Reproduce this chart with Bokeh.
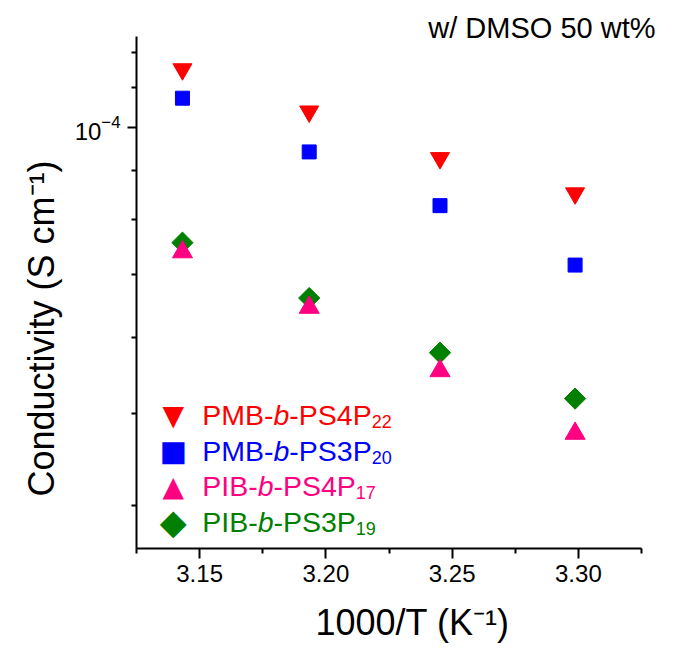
import numpy as np
from bokeh.plotting import figure
from bokeh.models import Range1d, FixedTicker, Label, Title
from bokeh.embed import file_html
from bokeh.resources import INLINE

# ---------------- data ----------------
inv_T = [3.1432, 3.1934, 3.2452, 3.2987]          # 1000/T (K^-1)
pmb_ps4p22 = [1.151e-4, 1.039e-4, 9.28e-5, 8.52e-5]
pmb_ps3p20 = [1.073e-4, 9.42e-5, 8.27e-5, 7.16e-5]
pib_ps4p17 = [7.39e-5, 6.46e-5, 5.54e-5, 4.76e-5]
pib_ps3p19 = [7.56e-5, 6.61e-5, 5.79e-5, 5.18e-5]

x_ticks = [3.15, 3.20, 3.25, 3.30]
x_tick_labels = ["3.15", "3.20", "3.25", "3.30"]
x_minor_ticks = [3.125, 3.175, 3.225, 3.275, 3.325]
y_ticks = [1e-4]
y_minor_ticks = [1.2e-4, 1.1e-4, 9e-5, 8e-5, 7e-5, 6e-5, 5e-5, 4e-5]

legend_head = ["PMB-", "PMB-", "PIB-", "PIB-"]
legend_block = ["b", "b", "b", "b"]
legend_tail = ["-PS4P", "-PS3P", "-PS4P", "-PS3P"]
legend_sub = ["22", "20", "17", "19"]
legend_symbols = ["\u25BC", "\u25A0", "\u25B2", "\u25C6"]
legend_symbol_sizes = [28, 29, 28, 35]
colors = ["#FF0000", "#0000FF", "#FF0080", "#008000"]

title_text = "w/ DMSO 50 wt%"
x_label = "1000/T (K\u207B\u00B9)"
y_label = "Conductivity (S cm\u207B\u00B9)"

FONT = "Liberation Sans"

p = figure(width=683, height=657, y_axis_type="log",
           x_range=Range1d(3.125, 3.325), y_range=Range1d(3.602e-5, 1.2461e-4),
           output_backend="svg", toolbar_location=None,
           min_border_left=136, min_border_right=42,
           min_border_top=36, min_border_bottom=108)
p.outline_line_color = None
p.xgrid.visible = False
p.ygrid.visible = False
p.background_fill_color = "white"
p.border_fill_color = "white"

# top-right caption as the plot title
p.title.text = title_text
p.title.align = "right"
p.title.offset = -14
p.title.standoff = -14
p.title.text_font = FONT
p.title.text_font_size = "29px"
p.title.text_font_style = "normal"
p.title.text_color = "black"

for ax in (p.xaxis[0], p.yaxis[0]):
    ax.axis_line_width = 2
    ax.axis_line_color = "black"
    ax.major_tick_line_width = 2
    ax.minor_tick_line_width = 2
    ax.major_tick_in = 0
    ax.minor_tick_in = 0
    ax.minor_tick_out = 5
    ax.major_label_text_font = FONT
    ax.major_label_text_font_size = "24px"
    ax.major_label_text_color = "black"

xa = p.xaxis[0]
xa.ticker = FixedTicker(ticks=x_ticks, minor_ticks=x_minor_ticks)
xa.major_label_overrides = dict(zip(x_ticks, x_tick_labels))
xa.major_tick_out = 10
xa.major_label_standoff = 6

ya = p.yaxis[0]
ya.ticker = FixedTicker(ticks=y_ticks, minor_ticks=y_minor_ticks)
ya.major_tick_out = 9
ya.major_label_standoff = 7

# axis titles (side panels, anchored from the frame's bottom-left corner)
p.add_layout(Title(text=y_label, align="left", offset=52, standoff=20,
                   text_font=FONT, text_font_size="36px", text_font_style="normal",
                   text_color="black"), "left")
p.add_layout(Title(text=x_label, align="left", offset=179, standoff=30,
                   text_font=FONT, text_font_size="36px", text_font_style="normal",
                   text_color="black"), "below")

# data markers (green drawn below pink)
p.scatter(inv_T, pmb_ps4p22, marker="inverted_triangle", size=19, color=colors[0])
p.scatter(inv_T, pmb_ps3p20, marker="square", size=14, color=colors[1])
p.scatter(inv_T, pib_ps3p19, marker="square", angle=np.pi / 4, size=15, color=colors[3])
p.scatter(inv_T, pib_ps4p17, marker="triangle", size=20, color=colors[2])

# legend, drawn as rich text (frame-relative screen units)
ARIAL_W = {"P": 0.667, "M": 0.833, "B": 0.667, "I": 0.278, "-": 0.333,
           "b": 0.556, "S": 0.667, "3": 0.556, "4": 0.556}

def tw(s, size):
    return sum(ARIAL_W.get(c, 0.556) for c in s) * size

LEG_SIZE = 28.5
SUB_SIZE = 18
x0 = 65.7
base0 = 133.5
sym0 = 133.3
pitch = 35.7
for i in range(4):
    yb = base0 - i * pitch
    c = colors[i]
    p.add_layout(Label(x=36.7, y=sym0 - i * pitch, x_units="screen", y_units="screen",
                       text=legend_symbols[i], text_align="center", text_baseline="middle",
                       text_font="DejaVu Sans", text_font_size=f"{legend_symbol_sizes[i]}px",
                       text_color=c))
    x = x0
    p.add_layout(Label(x=x, y=yb, x_units="screen", y_units="screen", text=legend_head[i],
                       text_align="left", text_baseline="alphabetic",
                       text_font=FONT, text_font_size=f"{LEG_SIZE}px", text_color=c))
    x += tw(legend_head[i], LEG_SIZE)
    p.add_layout(Label(x=x, y=yb, x_units="screen", y_units="screen", text=legend_block[i],
                       text_align="left", text_baseline="alphabetic", text_font_style="italic",
                       text_font=FONT, text_font_size=f"{LEG_SIZE}px", text_color=c))
    x += tw(legend_block[i], LEG_SIZE)
    p.add_layout(Label(x=x, y=yb, x_units="screen", y_units="screen", text=legend_tail[i],
                       text_align="left", text_baseline="alphabetic",
                       text_font=FONT, text_font_size=f"{LEG_SIZE}px", text_color=c))
    x += tw(legend_tail[i], LEG_SIZE)
    p.add_layout(Label(x=x, y=yb - 6.5, x_units="screen", y_units="screen", text=legend_sub[i],
                       text_align="left", text_baseline="alphabetic",
                       text_font=FONT, text_font_size=f"{SUB_SIZE}px", text_color=c))

open("out.html", "w").write(file_html(p, INLINE))
